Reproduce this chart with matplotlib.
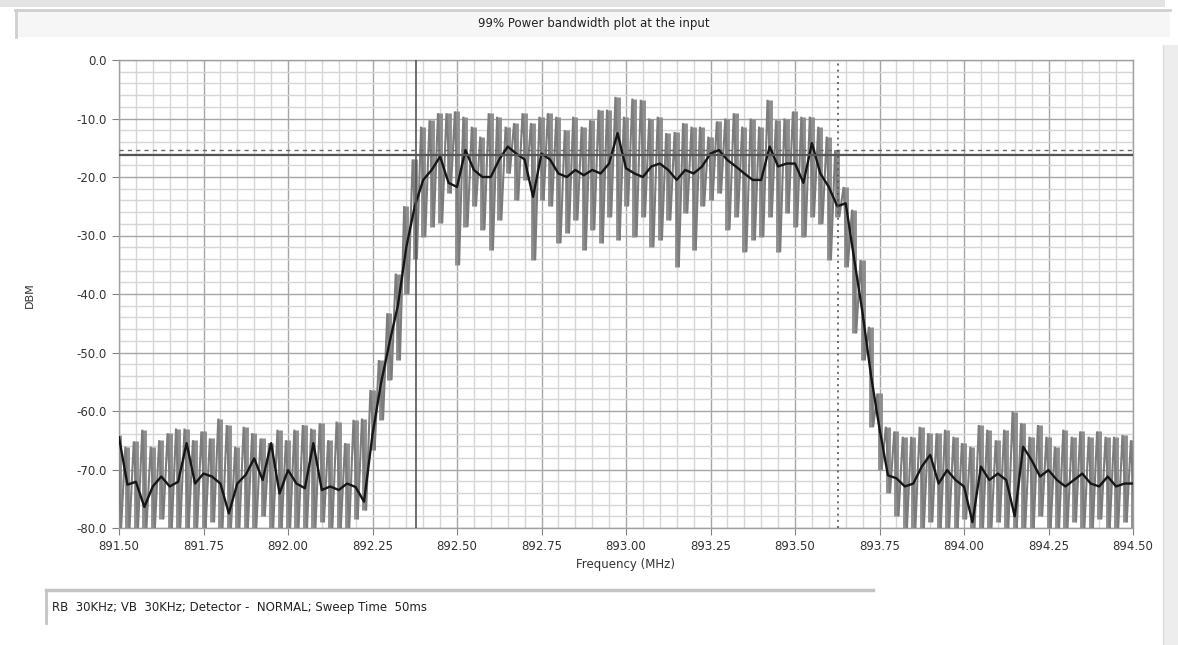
import numpy as np
import matplotlib
matplotlib.use("Agg")
import matplotlib.pyplot as plt
from matplotlib.patches import Rectangle
from matplotlib.lines import Line2D
from matplotlib.ticker import MultipleLocator, FormatStrFormatter

# ---- sweep settings ----
f_start, f_stop = 891.50, 894.50      # MHz
n_points = 121
x_ticks = [891.50, 891.75, 892.00, 892.25, 892.50, 892.75, 893.00,
           893.25, 893.50, 893.75, 894.00, 894.25, 894.50]
y_ticks = [0, -10, -20, -30, -40, -50, -60, -70, -80]

# ---- peak-hold trace: upper and lower excursion per sweep point (dBm) ----
trace_high = [
    -64.1, -66.1, -65.2, -63.2, -66.1, -65.0, -63.8, -63.0, -63.0, -65.0,
    -63.5, -64.7, -61.3, -62.4, -66.1, -62.7, -63.8, -64.7, -65.5, -63.2,
    -65.0, -63.2, -62.4, -63.0, -62.1, -65.0, -61.8, -65.5, -61.5, -61.3,
    -56.4, -51.3, -43.3, -36.5, -25.0, -17.0, -11.4, -10.3, -9.1, -9.1,
    -8.8, -9.7, -11.4, -13.1, -9.1, -9.7, -11.4, -10.8, -9.1, -10.8,
    -9.7, -9.1, -9.7, -12.0, -9.7, -11.4, -10.3, -8.5, -8.5, -6.3,
    -9.7, -6.6, -6.8, -10.0, -9.7, -12.5, -12.3, -10.8, -11.4, -11.4,
    -13.1, -10.5, -10.0, -9.1, -11.4, -10.0, -11.4, -6.8, -10.3, -10.0,
    -8.8, -9.7, -9.7, -11.4, -13.1, -15.4, -21.7, -25.6, -34.2, -45.6,
    -57.0, -62.7, -63.5, -64.4, -64.4, -62.7, -63.8, -63.8, -63.2, -64.4,
    -65.5, -66.1, -62.4, -63.2, -65.0, -63.2, -60.1, -62.1, -64.4, -62.4,
    -64.4, -66.1, -63.2, -64.4, -63.5, -64.4, -63.5, -64.4, -64.4, -64.1,
    -65.0,
]
trace_low = [
    -80.0, -80.0, -80.0, -80.0, -80.0, -78.5, -80.0, -80.0, -80.0, -80.0,
    -80.0, -79.0, -80.0, -80.0, -80.0, -80.0, -80.0, -78.0, -80.0, -80.0,
    -80.0, -80.0, -80.0, -80.0, -79.0, -80.0, -80.0, -80.0, -78.5, -77.0,
    -66.7, -61.5, -54.7, -51.3, -40.0, -34.0, -30.2, -28.5, -27.9, -22.8,
    -35.0, -28.5, -25.0, -29.0, -32.5, -27.4, -19.4, -24.0, -20.5, -34.2,
    -24.0, -25.0, -31.3, -29.6, -27.4, -32.5, -29.0, -31.3, -26.8, -30.8,
    -25.0, -30.2, -26.8, -32.0, -30.8, -27.4, -35.3, -26.2, -32.5, -25.0,
    -24.0, -22.8, -29.0, -26.8, -32.8, -30.8, -30.2, -26.8, -32.8, -26.2,
    -28.5, -30.2, -26.8, -28.0, -34.2, -26.8, -35.3, -46.7, -51.3, -62.7,
    -70.0, -74.0, -78.0, -80.0, -80.0, -80.0, -79.0, -80.0, -80.0, -80.0,
    -78.5, -80.0, -80.0, -80.0, -79.0, -80.0, -80.0, -80.0, -80.0, -78.0,
    -80.0, -80.0, -80.0, -79.0, -80.0, -80.0, -78.5, -80.0, -80.0, -79.0,
    -80.0,
]

# ---- averaged trace (dBm) ----
trace_avg = [
    -64.5, -72.6, -72.1, -76.4, -72.9, -71.2, -72.9, -72.1, -65.5, -72.4,
    -70.7, -71.2, -72.4, -77.5, -72.4, -70.9, -68.1, -71.8, -65.5, -74.1,
    -70.1, -72.4, -73.2, -65.5, -73.5, -72.9, -73.5, -72.4, -73.0, -75.5,
    -64.0, -55.3, -48.4, -42.0, -32.0, -25.0, -20.5, -18.8, -16.5, -21.0,
    -21.7, -15.4, -18.8, -20.0, -20.0, -17.0, -14.8, -16.0, -17.0, -23.4,
    -16.0, -17.0, -19.4, -20.0, -18.8, -19.7, -18.8, -19.4, -17.7, -12.5,
    -18.5, -19.4, -20.0, -18.2, -17.7, -18.8, -20.5, -18.8, -19.4, -18.2,
    -16.0, -15.4, -17.1, -18.2, -19.4, -20.5, -20.5, -14.8, -18.2, -17.7,
    -17.7, -21.0, -14.2, -19.4, -21.7, -25.0, -24.5, -34.0, -43.3, -54.0,
    -63.0, -71.0, -71.5, -72.9, -72.4, -69.5, -67.5, -72.4, -70.1, -71.8,
    -72.9, -79.0, -69.5, -71.8, -70.7, -71.8, -78.0, -66.1, -68.4, -71.2,
    -70.1, -71.8, -72.9, -71.8, -70.7, -72.4, -72.9, -71.2, -72.9, -72.4,
    -72.4,
]

# ---- markers ----
marker_left = 892.379      # MHz, 99 % power lower edge
marker_right = 893.627     # MHz, 99 % power upper edge
level_ref = -16.2          # dBm
level_dash = -15.4         # dBm

title_text = "99% Power bandwidth plot at the input"
footer_text = "RB  30KHz; VB  30KHz; Detector -  NORMAL; Sweep Time  50ms"

W, H = 1178, 645
fig = plt.figure(figsize=(W / 100, H / 100), dpi=100)
fig.patch.set_facecolor("white")


def fx(px):
    return px / W


def fy(py):
    return 1 - py / H


# window chrome
fig.add_artist(Rectangle((0, fy(7)), fx(1165), 7 / H, transform=fig.transFigure,
                         facecolor="#e4e4e4", edgecolor="none"))
fig.add_artist(Rectangle((fx(15), fy(37)), fx(1155), 27 / H, transform=fig.transFigure,
                         facecolor="#f6f6f6", edgecolor="none"))
fig.add_artist(Line2D([fx(15), fx(1170)], [fy(10), fy(10)], transform=fig.transFigure,
                      color="#cfcfcf", lw=2))
fig.add_artist(Line2D([fx(16), fx(16)], [fy(10), fy(37)], transform=fig.transFigure,
                      color="#cfcfcf", lw=2))
fig.add_artist(Rectangle((fx(1163), 0), fx(15), fy(45), transform=fig.transFigure,
                         facecolor="#ededed", edgecolor="none"))
fig.add_artist(Line2D([fx(1163), fx(1163)], [0, fy(45)], transform=fig.transFigure,
                      color="#dcdcdc", lw=1))
fig.add_artist(Line2D([fx(46), fx(873)], [fy(590), fy(590)], transform=fig.transFigure,
                      color="#c4c4c4", lw=2.5))
fig.add_artist(Line2D([fx(46), fx(46)], [fy(590), fy(623)], transform=fig.transFigure,
                      color="#c4c4c4", lw=2))
fig.text(fx(594), fy(23), title_text, ha="center", va="center", fontsize=8.5, color="#222222")
fig.text(fx(52), fy(607), footer_text, ha="left", va="center", fontsize=8.5, color="#222222")

ax = fig.add_axes([fx(119), fy(528), fx(1014), 468 / H])
ax.set_facecolor("white")

freq = np.linspace(f_start, f_stop, n_points)
half = (f_stop - f_start) / (n_points - 1) / 4
xs = np.column_stack([freq - half, freq + half]).ravel()
ys = np.column_stack([trace_high, trace_low]).ravel()

# peak-hold excursions: a bar per sweep point plus the connecting trace
ax.vlines(freq, trace_low, trace_high, color="#8e8e8e", lw=3.5, zorder=3)
ax.plot(xs, ys, color="#7c7c7c", lw=1.5, solid_joinstyle="miter", zorder=3.2)
ax.axhline(level_dash, color="#6a6a6a", lw=1.0, ls=(0, (3, 3)), zorder=3.5)
ax.plot(freq, trace_avg, color="#151515", lw=1.7, zorder=4)

ax.axvline(marker_left, color="#555555", lw=1.2, zorder=5)
ax.axvline(marker_right, color="#555555", lw=1.2, ls=(0, (1.2, 2.5)), zorder=5)
ax.axhline(level_ref, color="#555555", lw=1.6, zorder=5)

ax.set_xlim(f_start, f_stop)
ax.set_ylim(-80, 0)
ax.set_xticks(x_ticks)
ax.set_yticks(y_ticks)
ax.xaxis.set_minor_locator(MultipleLocator(0.05))
ax.yaxis.set_minor_locator(MultipleLocator(2))
ax.xaxis.set_major_formatter(FormatStrFormatter("%.2f"))
ax.yaxis.set_major_formatter(FormatStrFormatter("%.1f"))
ax.grid(which="minor", color="#d6d6d6", lw=1.0, zorder=0)
ax.grid(which="major", color="#a6a6a6", lw=1.0, zorder=0.5)
ax.set_axisbelow(True)
ax.tick_params(which="minor", length=0)
ax.tick_params(which="major", length=5, color="#808080", labelsize=8.5,
               labelcolor="#333333", pad=4)
for s in ax.spines.values():
    s.set_color("#a0a0a0")
    s.set_linewidth(1.0)

ax.set_xlabel("Frequency (MHz)", fontsize=8.5, color="#333333", labelpad=3)
fig.text(fx(30), fy(295), "DBM", rotation=90, ha="center", va="center",
         fontsize=8, color="#333333")

fig.savefig("out.png", dpi=100)
